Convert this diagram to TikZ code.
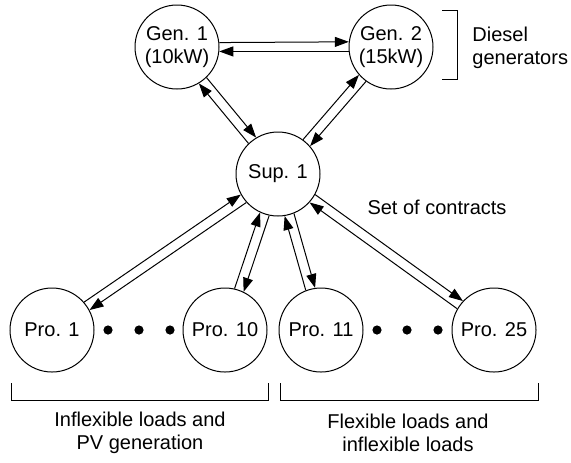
\documentclass[tikz,border=0pt]{standalone}
\usepackage{fontspec}
\setmainfont{Liberation Sans}
\usetikzlibrary{arrows.meta, calc}

% pair of opposite arrows between two round nodes
\newcommand{\twoway}[2]{%
  \draw[link, -{Triangle[length=7pt,width=5pt]}] let \p1=($(#2)-(#1)$), \n1={atan2(\y1,\x1)}, \n2={\n1+6.5}, \n3={\n1+173.5} in (#1.\n2) -- (#2.\n3);
  \draw[link, {Triangle[length=7pt,width=5pt]}-] let \p1=($(#2)-(#1)$), \n1={atan2(\y1,\x1)}, \n2={\n1-6.5}, \n3={\n1+186.5} in (#1.\n2) -- (#2.\n3);
}

\begin{document}
\begin{tikzpicture}[
  x=0.5pt, y=-0.5pt,
  font=\fontsize{10}{11.5}\selectfont,
  agent/.style={draw, circle, line width=0.5pt, minimum size=42pt, inner sep=0pt, align=center},
  link/.style={line width=0.5pt},
  brace/.style={line width=0.5pt},
  note/.style={align=center}
]
\useasboundingbox (0,0) rectangle (571,462);

% generators and supplier
\node[agent] (gen1) at (177,47) {Gen. 1\\(10kW)};
\node[agent] (gen2) at (391,47) {Gen. 2\\(15kW)};
\node[agent] (sup) at (278,174) {Sup. 1};

% prosumers
\node[agent] (pro1) at (52,330) {Pro. 1};
\node[agent] (pro10) at (225,330) {Pro. 10};
\node[agent] (pro11) at (321,330) {Pro. 11};
\node[agent] (pro25) at (494,330) {Pro. 25};

\foreach \x in {108,139,170,377,407,438}
  \fill (\x,330) circle (2.3pt);

% contracts
\twoway{gen1}{gen2}
\twoway{sup}{gen1}
\twoway{sup}{gen2}
\twoway{sup}{pro1}
\twoway{sup}{pro10}
\twoway{sup}{pro11}
\twoway{sup}{pro25}

\node[note] (contracts) at (437,207) {Set of contracts};

% groups
\draw[brace] (442,10) -- (457,10) -- (457,79) -- (442,79);
\node[align=left, anchor=west, inner sep=0pt] (diesel) at (472,48) {Diesel\\generators};

\draw[brace] (11,383) -- (11,400) -- (268,400) -- (268,383);
\draw[brace] (280,383) -- (280,400) -- (538,400) -- (538,383);
\node[note] (inflex) at (140,433) {Inflexible loads and\\PV generation};
\node[note] (flex) at (408,433) {Flexible loads and\\inflexible loads};

\end{tikzpicture}
\end{document}
